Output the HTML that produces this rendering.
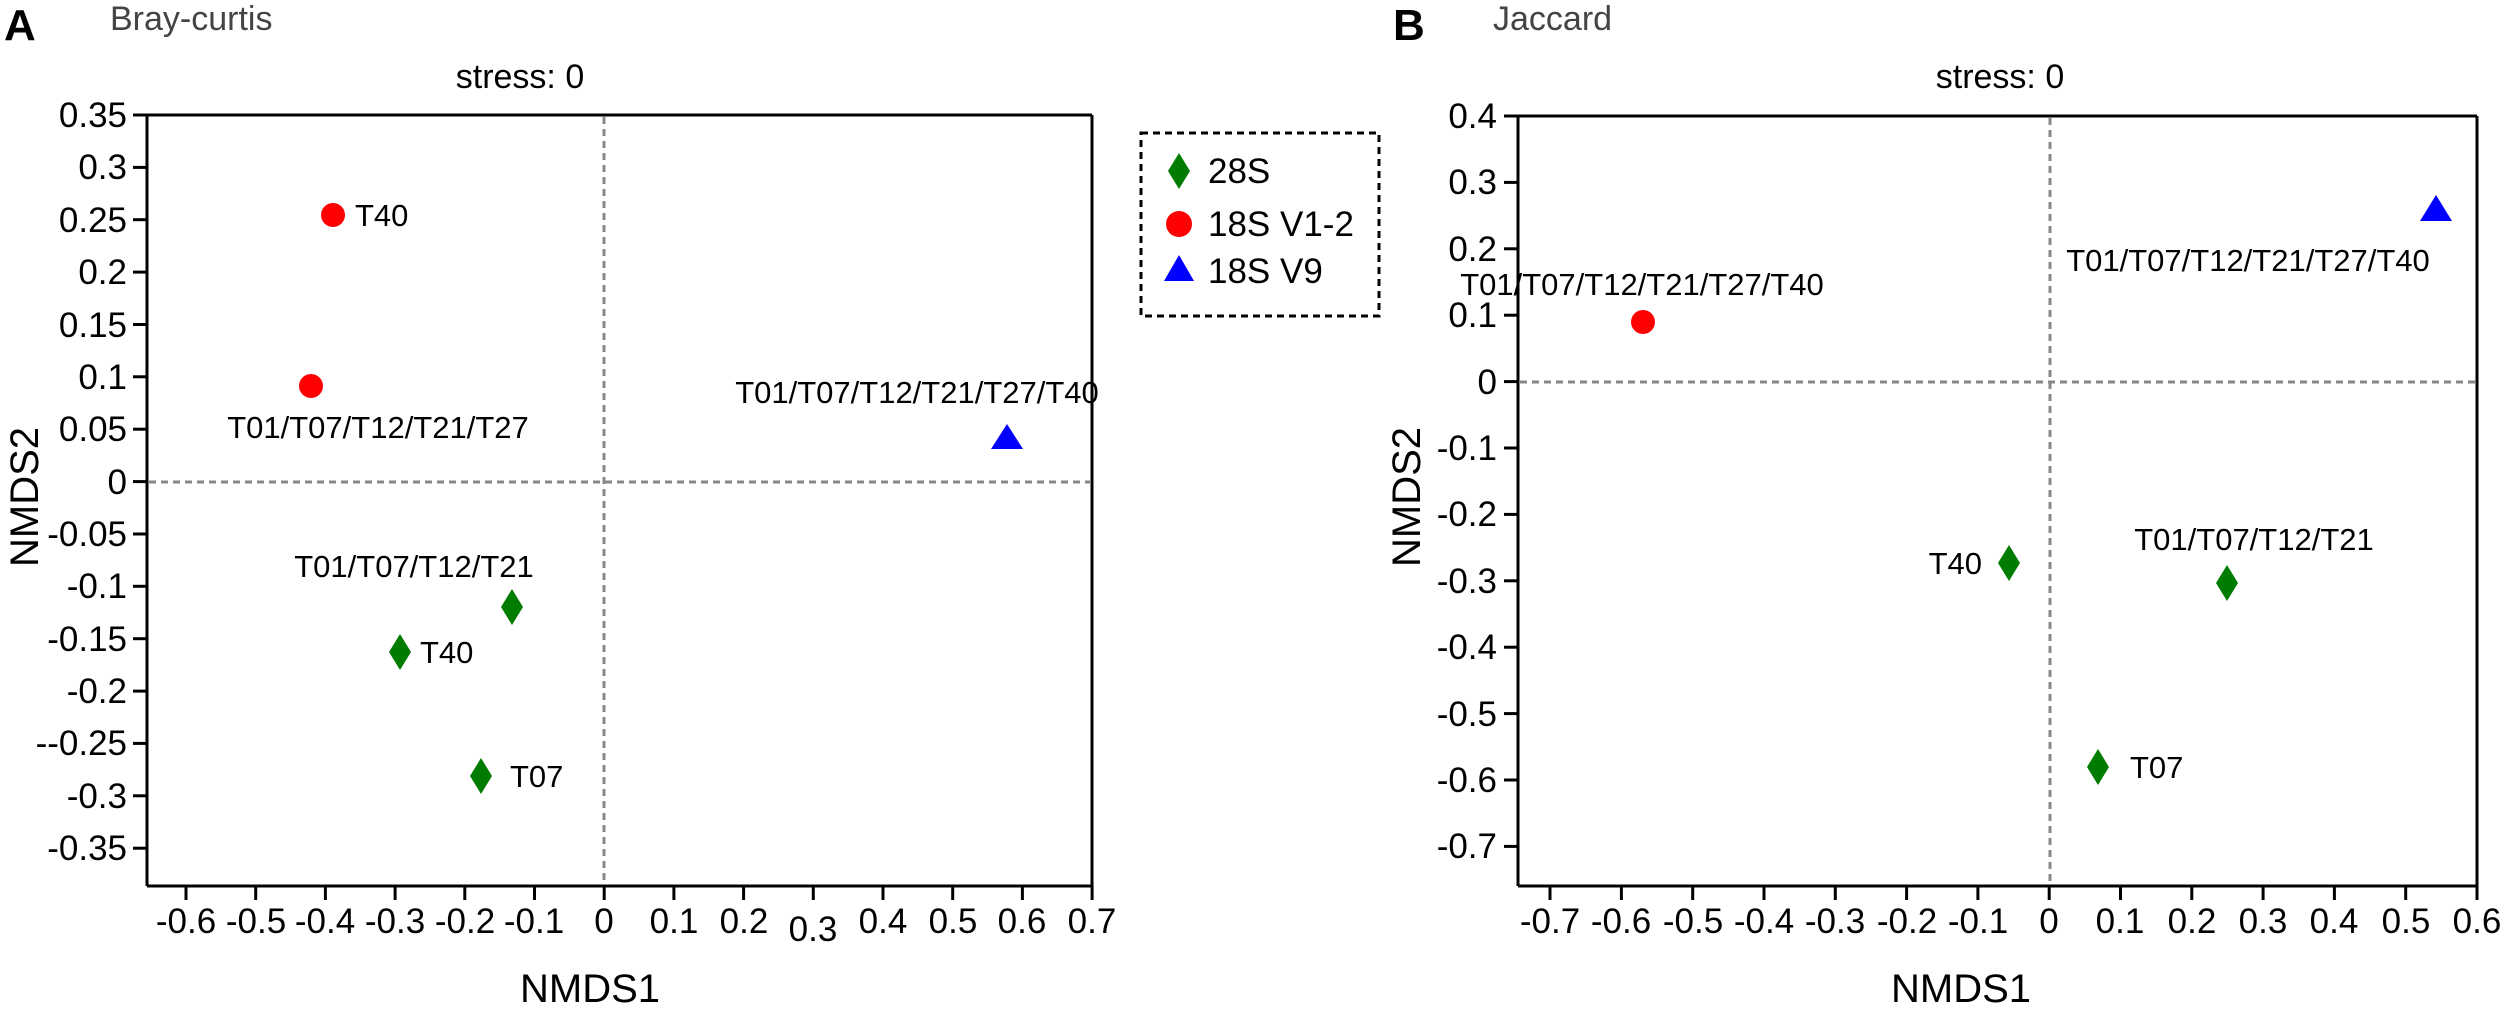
<!DOCTYPE html>
<html><head><meta charset="utf-8"><style>
html,body{margin:0;padding:0;background:#fff;}
svg{display:block;}
text{font-family:"Liberation Sans",Arial,sans-serif;fill:#000;}
</style></head><body>
<svg width="2500" height="1009" viewBox="0 0 2500 1009" xmlns="http://www.w3.org/2000/svg">
<!-- Panel labels -->
<text x="4" y="40" font-size="44" font-weight="bold">A</text>
<text x="110" y="30" font-size="34" style="fill:#444">Bray-curtis</text>
<text x="520" y="88" font-size="34" text-anchor="middle">stress: 0</text>
<text x="1393" y="40" font-size="44" font-weight="bold">B</text>
<text x="1493" y="30" font-size="34" style="fill:#444">Jaccard</text>
<text x="2000" y="88" font-size="34" text-anchor="middle">stress: 0</text>

<!-- Panel A frame -->
<g stroke="#000" stroke-width="3" fill="none">
<line x1="147" y1="115" x2="1092" y2="115"/>
<line x1="147" y1="115" x2="147" y2="886"/>
<line x1="147" y1="886" x2="1092" y2="886"/>
<line x1="1092" y1="115" x2="1092" y2="886"/>
</g>
<g stroke="#888" stroke-width="3" stroke-dasharray="7,5">
<line x1="604" y1="117" x2="604" y2="884"/>
<line x1="149" y1="482" x2="1090" y2="482"/>
</g>
<!-- A y ticks -->
<g stroke="#000" stroke-width="3">
<line x1="133" y1="115" x2="147" y2="115"/><line x1="133" y1="167.4" x2="147" y2="167.4"/>
<line x1="133" y1="219.7" x2="147" y2="219.7"/><line x1="133" y1="272.1" x2="147" y2="272.1"/>
<line x1="133" y1="324.5" x2="147" y2="324.5"/><line x1="133" y1="376.8" x2="147" y2="376.8"/>
<line x1="133" y1="429.2" x2="147" y2="429.2"/><line x1="133" y1="481.6" x2="147" y2="481.6"/>
<line x1="133" y1="534" x2="147" y2="534"/><line x1="133" y1="586.3" x2="147" y2="586.3"/>
<line x1="133" y1="638.7" x2="147" y2="638.7"/><line x1="133" y1="691.1" x2="147" y2="691.1"/>
<line x1="133" y1="743.4" x2="147" y2="743.4"/><line x1="133" y1="795.8" x2="147" y2="795.8"/>
<line x1="133" y1="848.2" x2="147" y2="848.2"/>
</g>
<g font-size="35" text-anchor="end">
<text x="127" y="127">0.35</text><text x="127" y="179">0.3</text>
<text x="127" y="232">0.25</text><text x="127" y="284">0.2</text>
<text x="127" y="337">0.15</text><text x="127" y="389">0.1</text>
<text x="127" y="441">0.05</text><text x="127" y="494">0</text>
<text x="127" y="546">-0.05</text><text x="127" y="598">-0.1</text>
<text x="127" y="651">-0.15</text><text x="127" y="703">-0.2</text>
<text x="127" y="755">--0.25</text><text x="127" y="808">-0.3</text>
<text x="127" y="860">-0.35</text>
</g>
<!-- A x ticks -->
<g stroke="#000" stroke-width="3">
<line x1="186" y1="886" x2="186" y2="900"/><line x1="255.7" y1="886" x2="255.7" y2="900"/>
<line x1="325.4" y1="886" x2="325.4" y2="900"/><line x1="395.1" y1="886" x2="395.1" y2="900"/>
<line x1="464.8" y1="886" x2="464.8" y2="900"/><line x1="534.5" y1="886" x2="534.5" y2="900"/>
<line x1="604.2" y1="886" x2="604.2" y2="900"/><line x1="673.9" y1="886" x2="673.9" y2="900"/>
<line x1="743.6" y1="886" x2="743.6" y2="900"/><line x1="813.3" y1="886" x2="813.3" y2="900"/>
<line x1="883" y1="886" x2="883" y2="900"/><line x1="952.7" y1="886" x2="952.7" y2="900"/>
<line x1="1022.4" y1="886" x2="1022.4" y2="900"/><line x1="1092.1" y1="886" x2="1092.1" y2="900"/>
</g>
<g font-size="35" text-anchor="middle">
<text x="186" y="933">-0.6</text><text x="256" y="933">-0.5</text>
<text x="325" y="933">-0.4</text><text x="395" y="933">-0.3</text>
<text x="465" y="933">-0.2</text><text x="534" y="933">-0.1</text>
<text x="604" y="933">0</text><text x="674" y="933">0.1</text>
<text x="744" y="933">0.2</text><text x="813" y="941">0.3</text>
<text x="883" y="933">0.4</text><text x="953" y="933">0.5</text>
<text x="1022" y="933">0.6</text><text x="1092" y="933">0.7</text>
</g>
<text x="590" y="1002" font-size="40" text-anchor="middle">NMDS1</text>
<text transform="translate(38,497) rotate(-90)" font-size="40" text-anchor="middle">NMDS2</text>

<!-- A points -->
<circle cx="333" cy="215" r="12" fill="#f00"/>
<text x="355" y="226" font-size="31">T40</text>
<circle cx="311" cy="386" r="12" fill="#f00"/>
<text x="378" y="438" font-size="31" text-anchor="middle">T01/T07/T12/T21/T27</text>
<polygon points="1007,424 1023,449 991,449" fill="#00f"/>
<text x="917" y="403" font-size="31" text-anchor="middle">T01/T07/T12/T21/T27/T40</text>
<polygon points="512,589 523,607 512,625 501,607" fill="#007d00"/>
<text x="414" y="577" font-size="31" text-anchor="middle">T01/T07/T12/T21</text>
<polygon points="400,634 411,652 400,670 389,652" fill="#007d00"/>
<text x="420" y="663" font-size="31">T40</text>
<polygon points="481,758 492,776 481,794 470,776" fill="#007d00"/>
<text x="510" y="787" font-size="31">T07</text>

<!-- Legend -->
<rect x="1141" y="133" width="238" height="183" fill="none" stroke="#000" stroke-width="3" stroke-dasharray="7,5"/>
<polygon points="1179,153 1190,171 1179,189 1168,171" fill="#007d00"/>
<text x="1208" y="183" font-size="35">28S</text>
<circle cx="1179" cy="224" r="13" fill="#f00"/>
<text x="1208" y="236" font-size="35">18S V1-2</text>
<polygon points="1179,255 1194,281 1164,281" fill="#00f"/>
<text x="1208" y="283" font-size="35">18S V9</text>

<!-- Panel B frame -->
<g stroke="#000" stroke-width="3" fill="none">
<line x1="1518" y1="116" x2="2477" y2="116"/>
<line x1="1518" y1="116" x2="1518" y2="886"/>
<line x1="1518" y1="886" x2="2477" y2="886"/>
<line x1="2477" y1="116" x2="2477" y2="886"/>
</g>
<g stroke="#888" stroke-width="3" stroke-dasharray="7,5">
<line x1="2050" y1="118" x2="2050" y2="884"/>
<line x1="1520" y1="382" x2="2475" y2="382"/>
</g>
<g stroke="#000" stroke-width="3">
<line x1="1504" y1="116" x2="1518" y2="116"/><line x1="1504" y1="182.4" x2="1518" y2="182.4"/>
<line x1="1504" y1="248.8" x2="1518" y2="248.8"/><line x1="1504" y1="315.2" x2="1518" y2="315.2"/>
<line x1="1504" y1="381.6" x2="1518" y2="381.6"/><line x1="1504" y1="448" x2="1518" y2="448"/>
<line x1="1504" y1="514.4" x2="1518" y2="514.4"/><line x1="1504" y1="580.8" x2="1518" y2="580.8"/>
<line x1="1504" y1="647.2" x2="1518" y2="647.2"/><line x1="1504" y1="713.6" x2="1518" y2="713.6"/>
<line x1="1504" y1="780" x2="1518" y2="780"/><line x1="1504" y1="846.4" x2="1518" y2="846.4"/>
</g>
<g font-size="35" text-anchor="end">
<text x="1497" y="128">0.4</text><text x="1497" y="194">0.3</text>
<text x="1497" y="261">0.2</text><text x="1497" y="327">0.1</text>
<text x="1497" y="394">0</text><text x="1497" y="460">-0.1</text>
<text x="1497" y="526">-0.2</text><text x="1497" y="593">-0.3</text>
<text x="1497" y="659">-0.4</text><text x="1497" y="726">-0.5</text>
<text x="1497" y="792">-0.6</text><text x="1497" y="858">-0.7</text>
</g>
<g stroke="#000" stroke-width="3">
<line x1="1550" y1="886" x2="1550" y2="900"/><line x1="1621.4" y1="886" x2="1621.4" y2="900"/>
<line x1="1692.7" y1="886" x2="1692.7" y2="900"/><line x1="1764" y1="886" x2="1764" y2="900"/>
<line x1="1835.3" y1="886" x2="1835.3" y2="900"/><line x1="1906.6" y1="886" x2="1906.6" y2="900"/>
<line x1="1977.9" y1="886" x2="1977.9" y2="900"/><line x1="2049.2" y1="886" x2="2049.2" y2="900"/>
<line x1="2120.5" y1="886" x2="2120.5" y2="900"/><line x1="2191.8" y1="886" x2="2191.8" y2="900"/>
<line x1="2263.1" y1="886" x2="2263.1" y2="900"/><line x1="2334.4" y1="886" x2="2334.4" y2="900"/>
<line x1="2405.7" y1="886" x2="2405.7" y2="900"/><line x1="2477" y1="886" x2="2477" y2="900"/>
</g>
<g font-size="35" text-anchor="middle">
<text x="1550" y="933">-0.7</text><text x="1621" y="933">-0.6</text>
<text x="1693" y="933">-0.5</text><text x="1764" y="933">-0.4</text>
<text x="1835" y="933">-0.3</text><text x="1907" y="933">-0.2</text>
<text x="1978" y="933">-0.1</text><text x="2049" y="933">0</text>
<text x="2120" y="933">0.1</text><text x="2192" y="933">0.2</text>
<text x="2263" y="933">0.3</text><text x="2334" y="933">0.4</text>
<text x="2406" y="933">0.5</text><text x="2477" y="933">0.6</text>
</g>
<text x="1961" y="1002" font-size="40" text-anchor="middle">NMDS1</text>
<text transform="translate(1420,497) rotate(-90)" font-size="40" text-anchor="middle">NMDS2</text>

<!-- B points -->
<polygon points="2436,195 2452,221 2420,221" fill="#00f"/>
<text x="2248" y="271" font-size="31" text-anchor="middle">T01/T07/T12/T21/T27/T40</text>
<circle cx="1643" cy="322" r="12" fill="#f00"/>
<text x="1642" y="295" font-size="31" text-anchor="middle">T01/T07/T12/T21/T27/T40</text>
<polygon points="2009,545 2020,563 2009,581 1998,563" fill="#007d00"/>
<text x="1982" y="574" font-size="31" text-anchor="end">T40</text>
<polygon points="2227,565 2238,583 2227,601 2216,583" fill="#007d00"/>
<text x="2254" y="550" font-size="31" text-anchor="middle">T01/T07/T12/T21</text>
<polygon points="2098,749 2109,767 2098,785 2087,767" fill="#007d00"/>
<text x="2130" y="778" font-size="31">T07</text>
</svg>
</body></html>
